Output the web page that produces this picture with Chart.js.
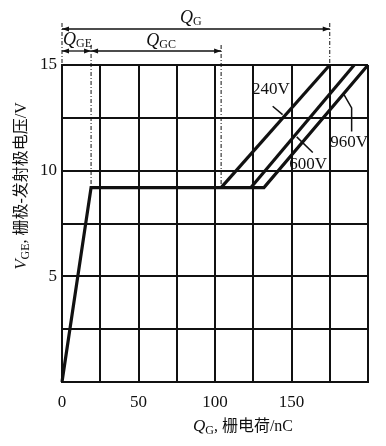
<!DOCTYPE html>
<html>
<head>
<meta charset="utf-8">
<script src="https://cdn.jsdelivr.net/npm/chart.js@4/dist/chart.umd.min.js"></script>
<style>
  html, body { margin: 0; padding: 0; background: #fff; }
</style>
</head>
<body>
<canvas id="chart" width="386" height="446"></canvas>
<script>
// gate charge curves, Q in nC, V in volts
const chargeMain = [0, 19, 132, 200];   // ends on the 960V branch
const voltMain = [0, 9.2, 9.2, 15];
const charge240 = [104, 175];
const volt240 = [9.2, 15];
const charge600 = [123.5, 191];
const volt600 = [9.2, 15];

const xTickLabels = [0, 50, 100, 150];
const yTickLabels = [5, 10, 15];
const curveNames = ["240V", "600V", "960V"];

// charge split markers
const qGE = 19;
const qGC = 104;
const qG = 175;

const serif = "'Liberation Serif', 'Noto Sans CJK SC', serif";
const ink = "#111";

const zip = (xs, ys) => xs.map((x, i) => ({ x: x, y: ys[i] }));

const lineSet = (data) => ({
  data: data,
  showLine: true,
  borderColor: ink,
  borderWidth: 3.2,
  pointRadius: 0,
  tension: 0,
  clip: false,
});

const drawRuns = (ctx, runs, x, y) => {
  let total = 0;
  runs.forEach(r => { ctx.font = r[1]; total += ctx.measureText(r[0]).width; });
  let cx = x - total / 2;
  runs.forEach(r => {
    ctx.font = r[1];
    ctx.fillText(r[0], cx, y + (r[2] || 0));
    cx += ctx.measureText(r[0]).width;
  });
};

const arrowHead = (ctx, x, y, dir) => {
  ctx.beginPath();
  ctx.moveTo(x, y);
  ctx.lineTo(x - dir * 7, y - 2.5);
  ctx.lineTo(x - dir * 7, y + 2.5);
  ctx.closePath();
  ctx.fill();
};

const dimLine = (ctx, x1, x2, y) => {
  ctx.lineWidth = 1.3;
  ctx.beginPath();
  ctx.moveTo(x1, y);
  ctx.lineTo(x2, y);
  ctx.stroke();
  arrowHead(ctx, x1, y, -1);
  arrowHead(ctx, x2, y, 1);
};

const annotations = {
  id: "annotations",
  afterDraw(chart) {
    const ctx = chart.ctx;
    const xs = chart.scales.x;
    const ys = chart.scales.y;
    const px = v => xs.getPixelForValue(v);
    const py = v => ys.getPixelForValue(v);
    const top = chart.chartArea.top;

    ctx.save();
    ctx.strokeStyle = ink;
    ctx.fillStyle = ink;

    // dash-dot guide lines
    ctx.lineWidth = 1;
    ctx.setLineDash([4, 2, 1, 2]);
    const guide = (x, y1, y2) => {
      ctx.beginPath();
      ctx.moveTo(x, y1);
      ctx.lineTo(x, y2);
      ctx.stroke();
    };
    guide(px(0), 23, top);
    guide(px(qG), 23, top);
    guide(px(qGE), 45, py(9.2));
    guide(px(qGC), 45, py(9.2));
    ctx.setLineDash([]);

    // dimension arrows
    dimLine(ctx, px(0), px(qG), 29);
    dimLine(ctx, px(0), px(qGE), 51);
    dimLine(ctx, px(qGE), px(qGC), 51);

    ctx.textBaseline = "alphabetic";
    const qFont = "italic 18px " + serif;
    const subFont = "12px " + serif;
    drawRuns(ctx, [["Q", qFont], ["G", subFont, 2]], (px(0) + px(qG)) / 2 - 5, 23);
    drawRuns(ctx, [["Q", qFont], ["GE", subFont, 2]], (px(0) + px(qGE)) / 2 + 1, 45);
    drawRuns(ctx, [["Q", qFont], ["GC", subFont, 2]], (px(qGE) + px(qGC)) / 2 + 5, 46);

    // curve labels with leaders
    ctx.font = "17px " + serif;
    ctx.textAlign = "left";
    ctx.textBaseline = "middle";
    const label = (t, x, y) => {
      const w = ctx.measureText(t).width;
      ctx.fillText(t, px(x) - w / 2, py(y));
    };
    label(curveNames[0], 136.6, 13.84);
    label(curveNames[1], 160.8, 10.28);
    label(curveNames[2], 187.6, 11.31);

    ctx.lineWidth = 1.5;
    const leader = (pts) => {
      ctx.beginPath();
      pts.forEach((p, i) => i ? ctx.lineTo(px(p[0]), py(p[1])) : ctx.moveTo(px(p[0]), py(p[1])));
      ctx.stroke();
    };
    leader([[137.7, 13.05], [144.2, 12.65]]);
    leader([[153.4, 11.6], [163.9, 10.86]]);
    leader([[184.3, 13.6], [189.3, 12.97], [189.3, 11.85]]);

    // axis titles
    ctx.textBaseline = "alphabetic";
    const cjk = "16px " + serif;
    drawRuns(ctx, [["Q", "italic 17px " + serif], ["G", subFont, 3], [", 栅电荷/nC", cjk]], 243, 431);

    ctx.translate(26, 186);
    ctx.rotate(-Math.PI / 2);
    drawRuns(ctx, [["V", "italic 17px " + serif], ["GE", subFont, 3], [", 栅极-发射极电压/V", cjk]], 0, 0);
    ctx.restore();
  }
};

new Chart(document.getElementById("chart").getContext("2d"), {
  type: "scatter",
  data: {
    datasets: [
      lineSet(zip(chargeMain, voltMain)),
      lineSet(zip(charge240, volt240)),
      lineSet(zip(charge600, volt600)),
    ]
  },
  options: {
    responsive: false,
    animation: false,
    devicePixelRatio: 1,
    layout: { padding: { top: 65, right: 18, left: 0, bottom: 0 } },
    plugins: { legend: { display: false }, tooltip: { enabled: false } },
    scales: {
      x: {
        type: "linear",
        min: 0,
        max: 200,
        afterFit: s => { s.height = 64; },
        ticks: {
          stepSize: 25,
          autoSkip: false,
          maxRotation: 0,
          padding: 10,
          color: ink,
          font: { family: serif, size: 17 },
          callback: v => xTickLabels.includes(v) ? String(v) : "",
        },
        grid: { color: ink, lineWidth: 2, drawTicks: false },
        border: { color: ink, width: 2 },
      },
      y: {
        type: "linear",
        min: 0,
        max: 15,
        afterFit: s => { s.width = 62; },
        ticks: {
          stepSize: 2.5,
          autoSkip: false,
          padding: 5,
          color: ink,
          font: { family: serif, size: 17 },
          callback: v => yTickLabels.includes(v) ? String(v) : "",
        },
        grid: { color: ink, lineWidth: 2, drawTicks: false },
        border: { color: ink, width: 2 },
      }
    }
  },
  plugins: [annotations]
});
</script>
</body>
</html>
